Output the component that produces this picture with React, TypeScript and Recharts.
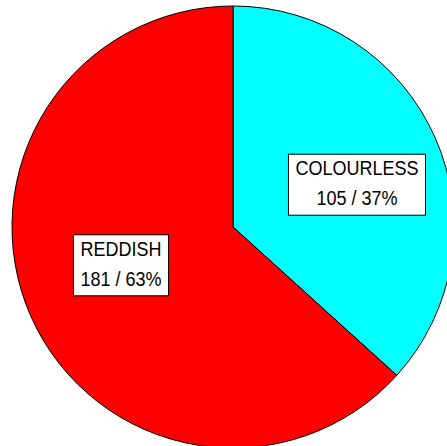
import React from 'react';
import { PieChart, Pie, Cell } from 'recharts';

const categories = ['COLOURLESS', 'REDDISH'];
const counts = [105, 181];
const percents = ['37%', '63%'];
const colors = ['#00ffff', '#ff0000'];

const data = categories.map((name, i) => ({ name, value: counts[i], pct: percents[i] }));

const FONT = '"Liberation Sans", Arial, sans-serif';
const FONT_SIZE = 20;
// the source text is drawn slightly narrower than plain Arial
const SQUEEZE = 0.9;

let ctx: CanvasRenderingContext2D | null = null;
const textWidth = (s: string) => {
  if (!ctx) ctx = document.createElement('canvas').getContext('2d');
  if (!ctx) return s.length * FONT_SIZE * 0.6 * SQUEEZE;
  ctx.font = `${FONT_SIZE}px ${FONT}`;
  return ctx.measureText(s).width * SQUEEZE;
};

const RAD = Math.PI / 180;

const BoxLabel = (props: any) => {
  const { cx, cy, midAngle, outerRadius, payload } = props;
  const r = outerRadius * 0.584;
  const x = cx + 6 + r * Math.cos(-midAngle * RAD);
  const y = cy - 2 + 0.77 * r * Math.sin(-midAngle * RAD);
  const line1 = payload.name;
  const line2 = `${payload.value} / ${payload.pct}`;
  const w1 = textWidth(line1);
  const w2 = textWidth(line2);
  const w = Math.max(w1, w2) + 14;
  const h = 61;
  return (
    <g>
      <rect x={x - w / 2} y={y - h / 2} width={w} height={h} fill="#ffffff" stroke="#000000" strokeWidth={1} />
      <text
        x={x - w1 / 2}
        y={y - 9.5}
        textLength={w1}
        lengthAdjust="spacingAndGlyphs"
        fontFamily={FONT}
        fontSize={FONT_SIZE}
        fill="#000000"
      >
        {line1}
      </text>
      <text
        x={x - w2 / 2}
        y={y + 20.5}
        textLength={w2}
        lengthAdjust="spacingAndGlyphs"
        fontFamily={FONT}
        fontSize={FONT_SIZE}
        fill="#000000"
      >
        {line2}
      </text>
    </g>
  );
};

export default function App() {
  return (
    <div style={{ position: 'absolute', left: 0, top: 0, width: 447, height: 446, background: '#ffffff' }}>
      <PieChart width={447} height={446} margin={{ top: 0, right: 0, bottom: 0, left: 0 }}>
        <Pie
          data={data}
          dataKey="value"
          nameKey="name"
          cx={233}
          cy={227}
          outerRadius={221}
          startAngle={90}
          endAngle={-270}
          stroke="#000000"
          strokeWidth={1}
          labelLine={false}
          label={BoxLabel}
          isAnimationActive={false}
        >
          {data.map((d, i) => (
            <Cell key={d.name} fill={colors[i]} />
          ))}
        </Pie>
      </PieChart>
    </div>
  );
}
